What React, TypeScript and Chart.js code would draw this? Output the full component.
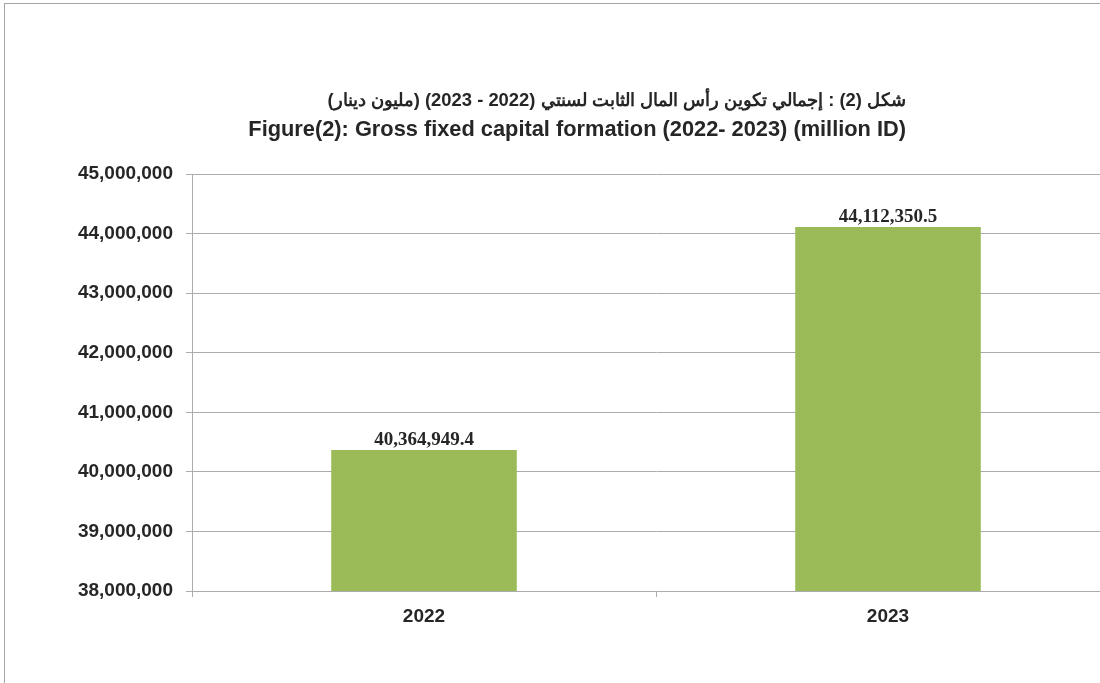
import React, { useEffect, useRef } from "react";
import { Chart, registerables } from "chart.js";

Chart.register(...registerables);

const categories: string[] = ["2022", "2023"];
const values: number[] = [40364949.4, 44112350.5];
const valueLabels: string[] = ["40,364,949.4", "44,112,350.5"];
const yTicks = { min: 38000000, max: 45000000, step: 1000000 };
const titleLines: string[] = [
  "شكل (2) : إجمالي تكوين رأس المال الثابت لسنتي (2022 - 2023) (مليون دينار)",
  "Figure(2): Gross fixed capital formation (2022- 2023) (million ID)",
];

const SANS = "'Liberation Sans', Arial, sans-serif";
const SERIF = "'Liberation Serif', 'Times New Roman', serif";
const TEXT = "#262626";
const GRID = "#acacac";

const labelPlugin = {
  id: "valueLabels",
  afterDatasetsDraw(chart: any) {
    const ctx = chart.ctx;
    const meta = chart.getDatasetMeta(0);
    ctx.save();
    ctx.font = `bold 19px ${SERIF}`;
    ctx.fillStyle = TEXT;
    ctx.textAlign = "center";
    ctx.textBaseline = "alphabetic";
    meta.data.forEach((bar: any, i: number) => {
      ctx.fillText(valueLabels[i], bar.x, bar.y - 5);
    });
    ctx.restore();
  },
};

const titlePlugin = {
  id: "rtlTitle",
  afterDraw(chart: any) {
    const ctx = chart.ctx;
    ctx.save();
    ctx.fillStyle = TEXT;
    ctx.textAlign = "right";
    ctx.textBaseline = "alphabetic";
    ctx.direction = "rtl";
    ctx.font = `bold 18.4px ${SANS}`;
    ctx.fillText(titleLines[0], 906, 106);
    ctx.direction = "ltr";
    ctx.font = `bold 21.8px ${SANS}`;
    ctx.fillText(titleLines[1], 906, 136);
    ctx.restore();
  },
};

export default function App() {
  const ref = useRef<HTMLCanvasElement | null>(null);
  useEffect(() => {
    if (!ref.current) return;
    const chart = new Chart(ref.current, {
      type: "bar",
      data: {
        labels: categories,
        datasets: [
          {
            data: values,
            backgroundColor: "#9BBB59",
            borderWidth: 0,
            categoryPercentage: 0.4,
            barPercentage: 1.0,
          },
        ],
      },
      plugins: [labelPlugin, titlePlugin],
      options: {
        responsive: false,
        animation: false,
        layout: { padding: { top: 174, left: 0, right: 10, bottom: 52 } },
        plugins: {
          legend: { display: false },
          title: { display: false },
          tooltip: { enabled: false },
        },
        scales: {
          x: {
            afterFit: (s: any) => {
              s.height = 40;
            },
            grid: {
              drawOnChartArea: false,
              drawTicks: true,
              tickLength: 6,
              color: GRID,
              offset: true,
            },
            border: { display: true, color: GRID },
            ticks: {
              color: TEXT,
              font: { family: SANS, size: 19, weight: "bold" },
              padding: 8,
            },
          },
          y: {
            min: yTicks.min,
            max: yTicks.max,
            afterFit: (s: any) => {
              s.width = 192;
            },
            grid: { color: GRID, tickLength: 6, drawTicks: true },
            border: { display: true, color: GRID },
            ticks: {
              stepSize: yTicks.step,
              color: TEXT,
              font: { family: SANS, size: 19, weight: "bold" },
              padding: 13,
              callback: (v: any) => Number(v).toLocaleString("en-US"),
            },
          },
        },
      },
    });
    return () => chart.destroy();
  }, []);

  return (
    <div
      style={{
        position: "fixed",
        left: 0,
        top: 0,
        width: 1100,
        height: 683,
        overflow: "hidden",
        background: "#fff",
      }}
    >
      <div
        style={{
          position: "absolute",
          left: 4,
          top: 3,
          width: 1200,
          height: 800,
          border: "1px solid #a6a6a6",
        }}
      />
      <canvas
        ref={ref}
        width={1130}
        height={683}
        style={{ position: "absolute", left: 0, top: 0 }}
      />
    </div>
  );
}
